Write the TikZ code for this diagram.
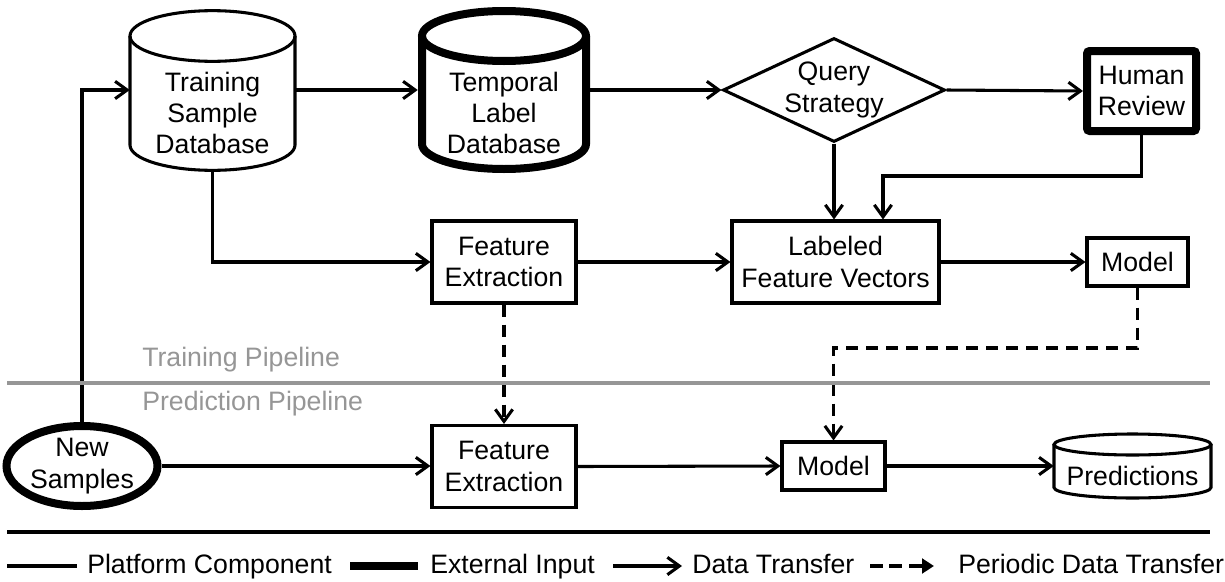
\documentclass[tikz,border=0pt]{standalone}
\usepackage{fontspec}
\setmainfont{Liberation Sans}
\usetikzlibrary{arrows.meta,shapes.geometric}
\definecolor{pipegray}{RGB}{150,150,150}
\tikzset{
  txt/.style={font=\fontsize{20}{23.5}\selectfont, align=center, inner sep=0pt},
  thin/.style={line width=2.3pt},
  thick ext/.style={line width=6pt},
  box/.style={txt, draw, thin, rectangle},
  flow/.style={thin, -{Straight Barb[length=9pt,width=13pt]}},
  dflow/.style={flow, dash pattern=on 9pt off 6pt},
}
\begin{document}
\begin{tikzpicture}[x=0.75pt,y=-0.75pt]
\useasboundingbox (0,0) rectangle (1225,582);

% Training Sample Database (cylinder)
\node[inner sep=0, minimum width=123.75pt, minimum height=120pt] (tsdb) at (212.5,90) {};
\draw[thin] (130,36) -- (130,145) arc[start angle=180,end angle=360,x radius=61.875pt,y radius=19pt] -- (295,36);
\draw[thin] (212.5,36) ellipse[x radius=61.875pt, y radius=19pt];
\node[txt] (tsdbt) at (212.5,113) {Training\\Sample\\Database};

% Temporal Label Database (thick cylinder)
\node[inner sep=0, minimum width=129pt, minimum height=124.5pt] (tldb) at (504,90) {};
\draw[thick ext] (422,36) -- (422,144) arc[start angle=180,end angle=360,x radius=61.5pt,y radius=18.75pt] -- (586,36);
\draw[thick ext] (504,36) ellipse[x radius=61.5pt, y radius=18.75pt];
\node[txt] (tldbt) at (504,113) {Temporal\\Label\\Database};

% Query Strategy
\node[txt, draw, thin, diamond, aspect=2.13, minimum width=166.5pt, minimum height=78pt] (qs) at (834,90) {Query\\Strategy};

% Human Review
\node[box, thick ext, rounded corners=2pt, minimum width=81.75pt, minimum height=60pt] (hr) at (1141.5,91) {Human\\Review};

% Training pipeline boxes
\node[box, minimum width=108pt, minimum height=61.5pt] (fe1) at (504,262) {Feature\\Extraction};
\node[box, minimum width=155.25pt, minimum height=61.5pt] (lfv) at (835.5,262) {Labeled\\Feature Vectors};
\node[box, minimum width=75.75pt, minimum height=36pt] (m1) at (1137.5,262) {Model};

% Prediction pipeline
\node[txt, draw, ellipse, thick ext, minimum width=113.25pt, minimum height=60pt] (ns) at (82,466) {New\\Samples};
\node[box, minimum width=108pt, minimum height=61.5pt] (fe2) at (504,466.5) {Feature\\Extraction};
\node[box, minimum width=77.25pt, minimum height=36pt] (m2) at (833.5,466) {Model};

% Predictions (cylinder)
\node[inner sep=0, minimum width=117.75pt, minimum height=48pt] (pred) at (1132.5,466) {};
\draw[thin] (1054,444.5) -- (1054,487.5) arc[start angle=180,end angle=360,x radius=58.875pt,y radius=7.875pt] -- (1211,444.5);
\draw[thin] (1132.5,444.5) ellipse[x radius=58.875pt, y radius=7.875pt];
\node[txt] (predt) at (1132.5,476) {Predictions};

% Connectors
\coordinate (hrbend) at (883,176);
\coordinate (mbend) at (833.5,348);
\draw[flow] (ns.north) |- (tsdb.west);
\draw[flow] (tsdb.east) -- (tldb.west);
\draw[flow] (tldb.east) -- (qs.west);
\draw[flow] (qs.east) -- (hr.west);
\draw[flow] (qs.south) -- (qs.south |- lfv.north);
\draw[flow] (hr.south) |- (hrbend) -- (hrbend |- lfv.north);
\draw[flow] (tsdb.south) |- (fe1.west);
\draw[flow] (fe1.east) -- (lfv.west);
\draw[flow] (lfv.east) -- (m1.west);
\draw[dflow] (fe1.south) -- (fe2.north);
\draw[dflow] (m1.south) |- (mbend) -- (m2.north);
\draw[flow] (ns.east) -- (ns.east -| fe2.west);
\draw[flow] (fe2.east) -- (m2.west);
\draw[flow] (m2.east) -- (pred.west);

% Pipeline separator
\coordinate (sepL) at (7,383);
\coordinate (sepR) at (1210,383);
\draw[line width=2.6pt, pipegray] (sepL) -- (sepR);
\node[txt, anchor=base west, text=pipegray] (tp) at (142,366) {Training Pipeline};
\node[txt, anchor=base west, text=pipegray] (pp) at (142,410) {Prediction Pipeline};

% Legend rule
\coordinate (ruleL) at (7,532);
\coordinate (ruleR) at (1210,532);
\draw[line width=2.6pt] (ruleL) -- (ruleR);

% Legend
\coordinate (l1a) at (7,566);   \coordinate (l1b) at (77,566);
\coordinate (l2a) at (350,566); \coordinate (l2b) at (418,566);
\coordinate (l3a) at (613,566); \coordinate (l3b) at (682,566);
\coordinate (l4a) at (870,566); \coordinate (l4m) at (902,566);
\coordinate (l4c) at (909,566); \coordinate (l4b) at (934,566);
\draw[thin] (l1a) -- (l1b);
\node[txt, anchor=base west] (lt1) at (87,573) {Platform Component};
\draw[thick ext] (l2a) -- (l2b);
\node[txt, anchor=base west] (lt2) at (430,573) {External Input};
\draw[flow] (l3a) -- (l3b);
\node[txt, anchor=base west] (lt3) at (692,573) {Data Transfer};
\draw[line width=2.8pt, dash pattern=on 9.75pt off 4.5pt] (l4a) -- (l4m);
\draw[line width=2.8pt, -{Triangle[length=9pt,width=11pt]}] (l4c) -- (l4b);
\node[txt, anchor=base west] (lt4) at (958,573) {Periodic Data Transfer};
\end{tikzpicture}
\end{document}
